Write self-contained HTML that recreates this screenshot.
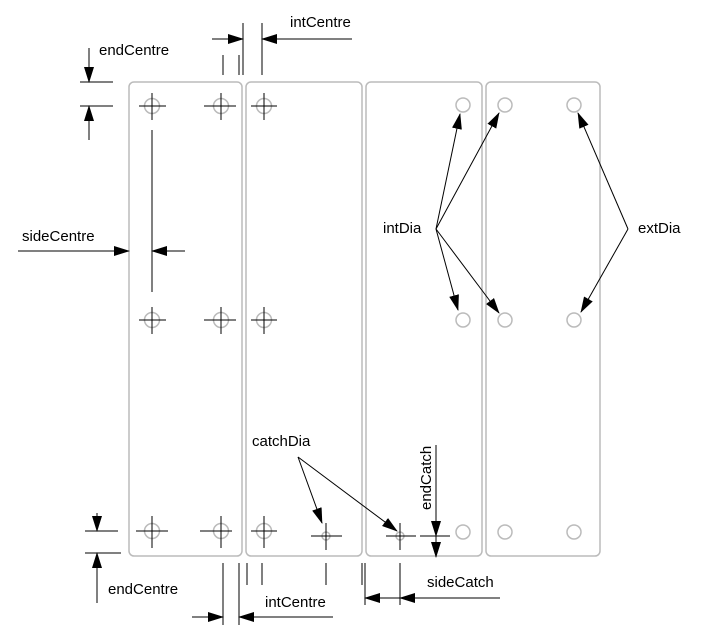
<!DOCTYPE html>
<html><head><style>body{margin:0;background:#fff}svg{display:block}text{font-family:"Liberation Sans",Arial,sans-serif;font-size:15px;fill:#000}</style></head><body>
<svg width="708" height="642" viewBox="0 0 708 642" xmlns="http://www.w3.org/2000/svg">
<defs><marker id="a" markerWidth="16" markerHeight="10" refX="15" refY="5" orient="auto" markerUnits="userSpaceOnUse"><path d="M0,0 L16,5 L0,10 z" fill="#000"/></marker></defs>
<g fill="none" stroke="#bbb" stroke-width="1.5">
<rect x="129" y="82" width="113" height="474" rx="5"/>
<rect x="246" y="82" width="116" height="474" rx="5"/>
<rect x="366" y="82" width="116" height="474" rx="5"/>
<rect x="486" y="82" width="114" height="474" rx="5"/>
<g stroke-width="1.5">
<circle cx="152" cy="106" r="7.5"/><circle cx="221" cy="106" r="7.5"/><circle cx="264" cy="106" r="7.5"/>
<circle cx="152" cy="320" r="7.5"/><circle cx="221" cy="320" r="7.5"/><circle cx="264" cy="320" r="7.5"/>
<circle cx="152" cy="531" r="7.5"/><circle cx="221" cy="531" r="7.5"/><circle cx="264" cy="531" r="7.5"/>
<circle cx="463" cy="105" r="7"/><circle cx="505" cy="105" r="7"/><circle cx="574" cy="105" r="7"/>
<circle cx="463" cy="320" r="7"/><circle cx="505" cy="320" r="7"/><circle cx="574" cy="320" r="7"/>
<circle cx="463" cy="532" r="7"/><circle cx="505" cy="532" r="7"/><circle cx="574" cy="532" r="7"/>
<circle cx="326" cy="536" r="4"/><circle cx="400" cy="536" r="4"/>
</g></g>
<g stroke="#000" stroke-width="1" fill="none">
<path d="M139,106h27M152,93v27M204,106h32M221,93v27M251,106h26M264,93v27"/>
<path d="M139,320h27M152,307v27M204,320h32M221,307v27M251,320h26M264,307v27"/>
<path d="M136,531h32M152,516v32M200,531h32M221,516v32M251,531h26M264,516v32"/>
<path d="M311,536h31M326,523v27M386,536h30M400,523v27"/>
<path d="M80,82h33M80,106h33"/>
<path d="M89,48V82" marker-end="url(#a)"/><path d="M89,140V106" marker-end="url(#a)"/>
<path d="M243,23v52M262,23v52M223,55v20M239,55v20"/>
<path d="M212,39H243" marker-end="url(#a)"/><path d="M352,39H262" marker-end="url(#a)"/>
<path d="M18,251H129" marker-end="url(#a)"/>
<path d="M152,130V292"/>
<path d="M185,251H152" marker-end="url(#a)"/>
<path d="M85,531h33M85,553h36"/>
<path d="M97,513V531" marker-end="url(#a)"/><path d="M97,603V553" marker-end="url(#a)"/>
<path d="M223,563v62M239,563v62M247,563v22M262,563v22M326,563v22"/>
<path d="M192,617H223" marker-end="url(#a)"/><path d="M333,617H239" marker-end="url(#a)"/>
<path d="M362,563v22M365,563v42M400,563v42"/>
<path d="M400,598H365" marker-end="url(#a)"/><path d="M500,598H400" marker-end="url(#a)"/>
<path d="M420,536h30"/>
<path d="M436,445V536" marker-end="url(#a)"/><path d="M436,536V557" marker-end="url(#a)"/>
<path d="M298,457L322,523" marker-end="url(#a)"/><path d="M298,457L397,531" marker-end="url(#a)"/>
<path d="M436,229L460,114" marker-end="url(#a)"/><path d="M436,229L499,113" marker-end="url(#a)"/>
<path d="M436,229L458,310" marker-end="url(#a)"/><path d="M436,229L499,313" marker-end="url(#a)"/>
<path d="M628,229L578,113" marker-end="url(#a)"/><path d="M628,229L581,312" marker-end="url(#a)"/>
</g>
<text x="99" y="55">endCentre</text>
<text x="290" y="27">intCentre</text>
<text x="22" y="241">sideCentre</text>
<text x="108" y="594">endCentre</text>
<text x="265" y="607">intCentre</text>
<text x="427" y="587">sideCatch</text>
<text x="252" y="446">catchDia</text>
<text x="383" y="233">intDia</text>
<text x="638" y="233">extDia</text>
<text transform="translate(431,510) rotate(-90)">endCatch</text>
</svg>
</body></html>
